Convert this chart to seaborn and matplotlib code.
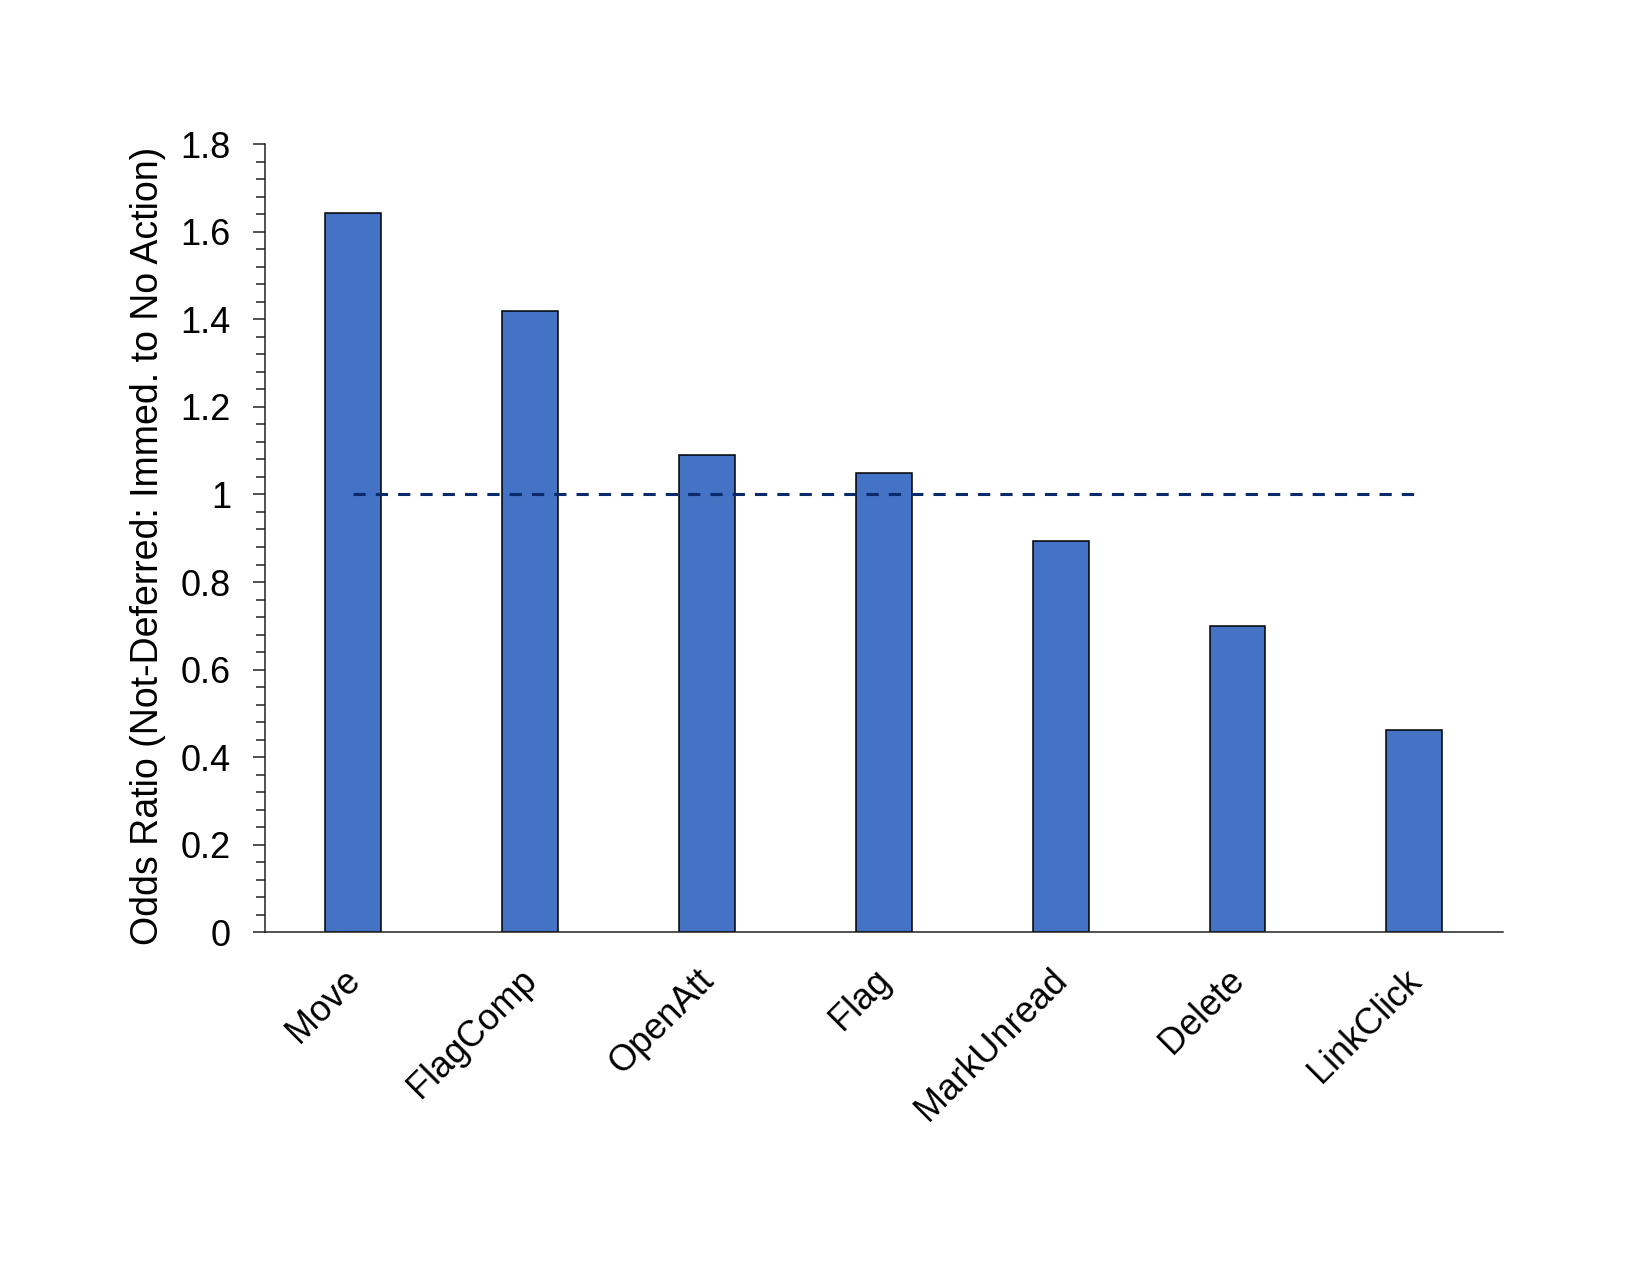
import numpy as np
import pandas as pd
import seaborn as sns
import matplotlib.pyplot as plt
import matplotlib.transforms as mtransforms
from matplotlib.ticker import MultipleLocator, FuncFormatter

# data
categories = ["Move", "FlagComp", "OpenAtt", "Flag", "MarkUnread", "Delete", "LinkClick"]
odds_ratio = [1.644, 1.418, 1.089, 1.048, 0.893, 0.700, 0.461]
ref_level = 1.0

y_label = "Odds Ratio (Not-Deferred: Immed. to No Action)"

df = pd.DataFrame({"action": categories, "odds": odds_ratio})

sns.set_style("ticks")
plt.rcParams["font.family"] = ["Liberation Sans", "DejaVu Sans"]
plt.rcParams["text.color"] = "black"
plt.rcParams["axes.labelcolor"] = "black"

fig = plt.figure(figsize=(16.5, 12.75), dpi=100)
ax = fig.add_axes([0.1606, 0.2688, 0.7501, 0.6181])

sns.barplot(data=df, x="action", y="odds", color="#4472C4", saturation=1,
            edgecolor="black", linewidth=1.1, width=0.316, ax=ax)

# reference line at odds ratio = 1
ax.hlines(ref_level, 0, len(categories) - 1, colors="#0B2A6B",
          linestyles=(0, (4, 3.3)), linewidth=2.2, zorder=3)

ax.set_xlim(-0.5, len(categories) - 0.5)
ax.set_ylim(0, 1.8)
ax.yaxis.set_major_locator(MultipleLocator(0.2))
ax.yaxis.set_minor_locator(MultipleLocator(0.04))
ax.yaxis.set_major_formatter(FuncFormatter(lambda v, p: f"{v:g}"))

sns.despine(ax=ax)
for side in ["left", "bottom"]:
    ax.spines[side].set_linewidth(1.1)
    ax.spines[side].set_color("#222222")

ax.tick_params(axis="y", which="major", length=8.5, width=1.1, pad=16,
               labelsize=26, color="#222222", labelcolor="black")
ax.tick_params(axis="y", which="minor", length=6.5, width=1.1, color="#222222")
ax.tick_params(axis="x", which="major", length=0, pad=22, labelsize=26,
               labelcolor="black")

offset = mtransforms.ScaledTranslation(14 / 100, 0, fig.dpi_scale_trans)
for lbl in ax.get_xticklabels():
    lbl.set_rotation(45)
    lbl.set_ha("right")
    lbl.set_transform(lbl.get_transform() + offset)

ax.set_xlabel("")
ax.set_ylabel(y_label, fontsize=27)
ax.yaxis.set_label_coords(-0.080, 0.49)

fig.savefig("out.png", dpi=100, facecolor="white")
